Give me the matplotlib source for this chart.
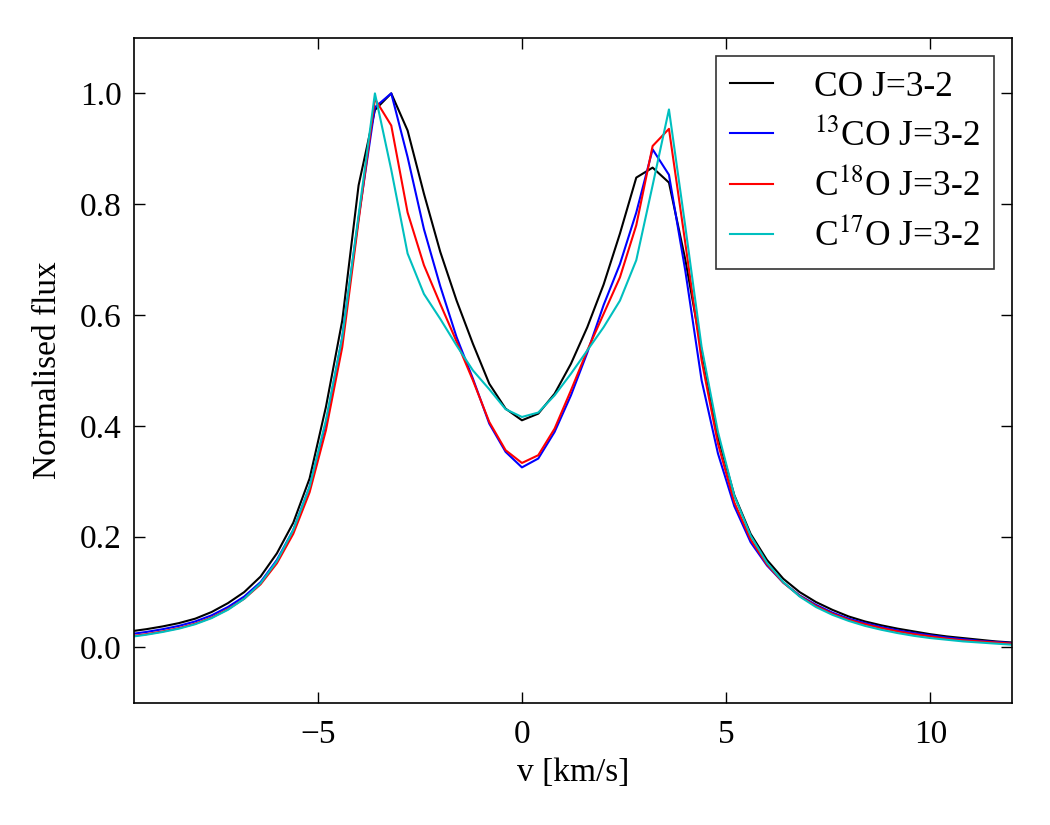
import numpy as np
import matplotlib
matplotlib.use('Agg')
import matplotlib.pyplot as plt

# velocity grid (km/s)
v = [-9.6, -9.2, -8.8, -8.4, -8.0, -7.6, -7.2, -6.8, -6.4, -6.0,
     -5.6, -5.2, -4.8, -4.4, -4.0, -3.6, -3.2, -2.8, -2.4, -2.0,
     -1.6, -1.2, -0.8, -0.4, 0.0, 0.4, 0.8, 1.2, 1.6, 2.0,
     2.4, 2.8, 3.2, 3.6, 4.0, 4.4, 4.8, 5.2, 5.6, 6.0,
     6.4, 6.8, 7.2, 7.6, 8.0, 8.4, 8.8, 9.2, 9.6, 10.0,
     10.4, 10.8, 11.2, 11.6, 12.0]

# normalised line profiles
co = [0.029, 0.033, 0.038, 0.044, 0.052, 0.064, 0.080, 0.100, 0.128, 0.170,
      0.225, 0.305, 0.434, 0.590, 0.834, 0.970, 1.000, 0.933, 0.819, 0.714,
      0.626, 0.548, 0.476, 0.431, 0.410, 0.422, 0.458, 0.512, 0.578, 0.655,
      0.747, 0.848, 0.866, 0.839, 0.700, 0.536, 0.380, 0.275, 0.205, 0.158,
      0.124, 0.100, 0.082, 0.068, 0.056, 0.047, 0.040, 0.034, 0.029, 0.024,
      0.020, 0.017, 0.014, 0.011, 0.009]

co13 = [0.024, 0.028, 0.033, 0.039, 0.047, 0.058, 0.073, 0.092, 0.118, 0.158,
        0.212, 0.290, 0.405, 0.560, 0.775, 0.975, 1.000, 0.885, 0.755, 0.652,
        0.560, 0.485, 0.404, 0.353, 0.325, 0.341, 0.389, 0.455, 0.532, 0.618,
        0.692, 0.785, 0.899, 0.853, 0.680, 0.482, 0.350, 0.255, 0.190, 0.148,
        0.117, 0.094, 0.077, 0.063, 0.052, 0.044, 0.037, 0.031, 0.026, 0.022,
        0.018, 0.015, 0.012, 0.010, 0.008]

c18o = [0.020, 0.024, 0.029, 0.035, 0.043, 0.054, 0.069, 0.088, 0.114, 0.152,
        0.205, 0.280, 0.392, 0.542, 0.770, 0.990, 0.942, 0.785, 0.690, 0.620,
        0.552, 0.482, 0.407, 0.356, 0.333, 0.347, 0.395, 0.464, 0.536, 0.602,
        0.668, 0.762, 0.905, 0.936, 0.730, 0.518, 0.368, 0.262, 0.195, 0.150,
        0.117, 0.093, 0.075, 0.061, 0.050, 0.042, 0.035, 0.029, 0.024, 0.020,
        0.016, 0.013, 0.011, 0.009, 0.007]

c17o = [0.019, 0.023, 0.028, 0.034, 0.042, 0.053, 0.068, 0.088, 0.116, 0.156,
        0.212, 0.290, 0.410, 0.560, 0.780, 1.000, 0.862, 0.711, 0.638, 0.593,
        0.545, 0.500, 0.466, 0.430, 0.416, 0.424, 0.455, 0.494, 0.536, 0.578,
        0.626, 0.699, 0.834, 0.971, 0.760, 0.542, 0.389, 0.274, 0.202, 0.153,
        0.118, 0.092, 0.073, 0.059, 0.048, 0.039, 0.032, 0.026, 0.021, 0.017,
        0.014, 0.011, 0.009, 0.007, 0.005]

labels = ['CO J=3-2', r'$^{13}$CO J=3-2', r'C$^{18}$O J=3-2', r'C$^{17}$O J=3-2']
colors = ['k', 'b', 'r', 'c']

plt.rcParams['font.family'] = ['Liberation Serif', 'DejaVu Serif']
plt.rcParams['mathtext.fontset'] = 'stix'
plt.rcParams['font.size'] = 24

fig = plt.figure(figsize=(10.5, 8.25), dpi=100)
ax = fig.add_axes([0.1276, 0.148, 0.8362, 0.806])

for y, lab, col in zip([co, co13, c18o, c17o], labels, colors):
    ax.plot(v, y, color=col, lw=1.5, label=lab)

ax.set_xlim(-9.5, 12)
ax.set_ylim(-0.1, 1.1)
ax.set_xticks([-5, 0, 5, 10])
ax.set_yticks([0.0, 0.2, 0.4, 0.6, 0.8, 1.0])
ax.set_yticklabels(['0.0', '0.2', '0.4', '0.6', '0.8', '1.0'])
ax.tick_params(direction='in', top=True, right=True, length=8, width=1)
ax.tick_params(axis='x', pad=12)
ax.tick_params(axis='y', pad=9)
for s in ax.spines.values():
    s.set_linewidth(1.2)

ax.set_xlabel('v [km/s]', labelpad=5)
ax.set_ylabel('Normalised flux', labelpad=12)

leg = ax.legend(loc='upper right', fancybox=False, fontsize=25.5,
                handlelength=1.2, handletextpad=1.15, labelspacing=0.42,
                borderaxespad=0.5, borderpad=0.42)
leg.get_frame().set_edgecolor('k')
leg.get_frame().set_linewidth(1.2)

fig.savefig('out.png', dpi=100)
